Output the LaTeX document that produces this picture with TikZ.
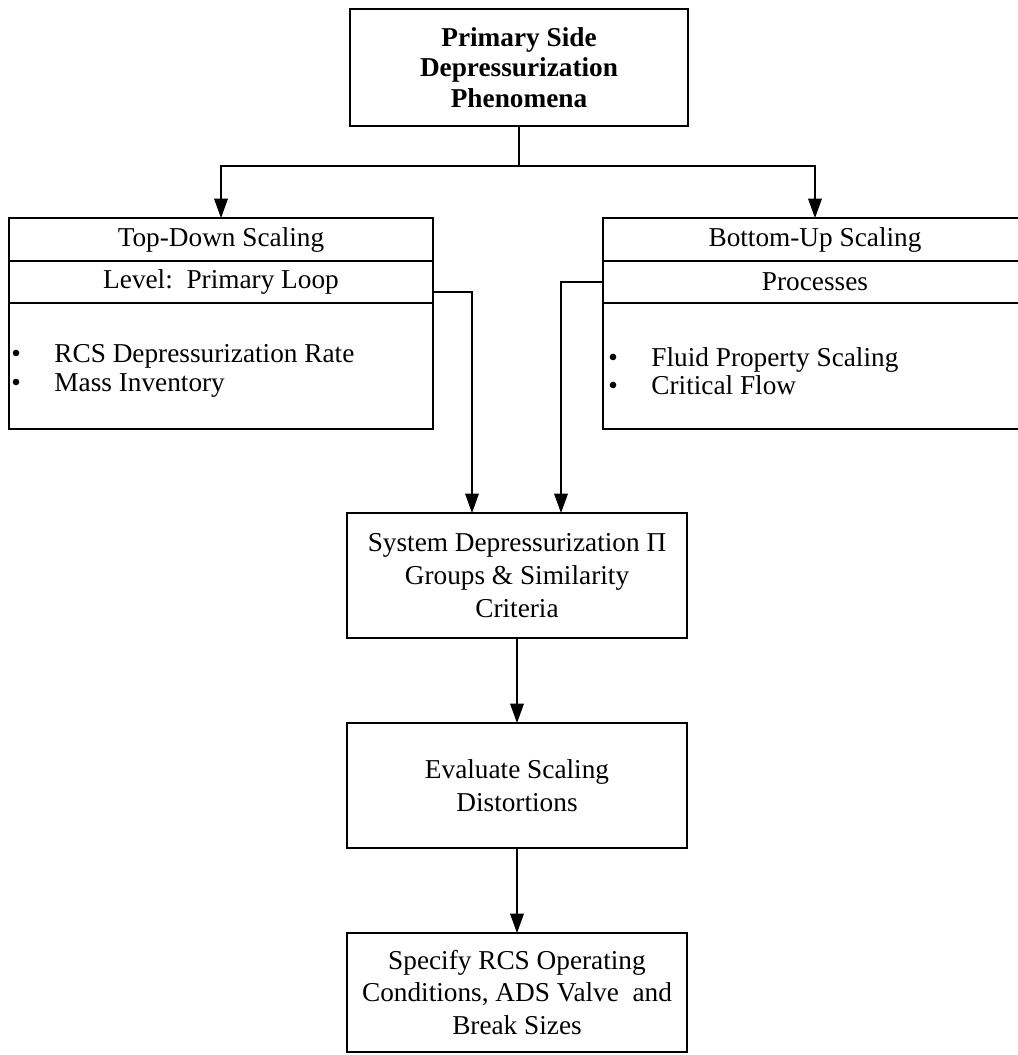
\documentclass[tikz,border=0pt]{standalone}
\usepackage{fontspec}
\setmainfont{Liberation Serif}
\usepackage{tikz}
\usetikzlibrary{positioning,arrows.meta}
\newdimen\px \px=0.44pt
\newcommand{\blt}{\makebox[43\px][l]{\textbullet}}

\begin{document}
\begin{tikzpicture}[x=0.44pt, y=-0.44pt,
    box/.style={draw, line width=0.9pt, rectangle, inner sep=0pt, outer sep=0pt,
      align=center, font=\fontsize{12}{14.5}\selectfont},
    items/.style={inner sep=0pt, align=left, font=\fontsize{12}{12.5}\selectfont},
    wire/.style={line width=0.55pt},
    link/.style={wire, -{Triangle[length=8.5pt,width=6pt]}}]
    \useasboundingbox (0,0) rectangle (1018,1055);
    \clip (0,0) rectangle (1018,1055);

    %% phenomena box
    \node[box, minimum width=338\px, minimum height=117\px,
      font=\fontsize{12}{13.5}\selectfont\bfseries] (phen) at (519,67.5)
      {Primary Side\\Depressurization\\Phenomena};

    %% top-down scaling
    \node[box, minimum width=424\px, minimum height=43\px] (tdHead) at (221,239.5) {Top-Down Scaling};
    \node[box, minimum width=424\px, minimum height=42\px, below=0pt of tdHead] (tdLevel) {Level:\ \ Primary Loop};
    \node[box, minimum width=424\px, minimum height=126\px, below=0pt of tdLevel] (tdList) {};
    \node[items, anchor=west] (tdItems) at (11,371)
      {\blt RCS Depressurization Rate\\\blt Mass Inventory};

    %% bottom-up scaling
    \node[box, minimum width=424\px, minimum height=43\px] (buHead) at (815,239.5) {Bottom-Up Scaling};
    \node[box, minimum width=424\px, minimum height=42\px, below=0pt of buHead] (buLevel) {Processes};
    \node[box, minimum width=424\px, minimum height=126\px, below=0pt of buLevel] (buList) {};
    \node[items, anchor=west] (buItems) at (608,371)
      {\blt Fluid Property Scaling\\\blt Critical Flow};

    %% pi groups, distortions, specification
    \node[box, minimum width=340\px, minimum height=125\px] (groups) at (517,575.5)
      {System Depressurization Π\\Groups \& Similarity\\Criteria};
    \node[box, minimum width=340\px, minimum height=125\px] (distort) at (517,785.5)
      {Evaluate Scaling\\Distortions};
    \node[box, minimum width=340\px, minimum height=119\px] (spec) at (517,992.5)
      {Specify RCS Operating\\Conditions, ADS Valve\ \ and\\Break Sizes};

    %% connectors
    \coordinate (split) at (519,166);
    \draw[wire] (phen.south) -- (split);
    \draw[link] (split) -| (tdHead.north);
    \draw[link] (split) -| (buHead.north);
    \draw[link] ([yshift=-10\px]tdLevel.east) -| ([xshift=-45\px]groups.north);
    \draw[link] (buLevel.west) -| ([xshift=44\px]groups.north);
    \draw[link] (groups.south) -- (distort.north);
    \draw[link] (distort.south) -- (spec.north);
  \end{tikzpicture}
\end{document}
